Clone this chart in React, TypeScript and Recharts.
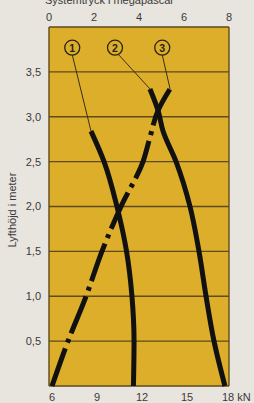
import { LineChart, Line, XAxis, YAxis, CartesianGrid, ReferenceDot, ReferenceLine } from "recharts";

// lyfthöjd (m) och lyftkraft (kN) för de tre kurvorna
const heights1 = [0, 0.5, 1.0, 1.5, 2.0, 2.5, 2.84];
const force1 = [11.63, 11.67, 11.53, 11.17, 10.53, 9.67, 8.8];

const heights2 = [0, 0.5, 1.0, 1.5, 2.0, 2.5, 2.84, 3.07, 3.31];
const force2 = [17.73, 17.0, 16.47, 16.0, 15.4, 14.47, 13.6, 13.27, 12.73];

const heights3 = [0, 0.5, 1.0, 1.5, 2.0, 2.5, 2.77, 3.07, 3.31];
const force3 = [6.2, 7.27, 8.47, 9.53, 10.8, 12.27, 12.73, 13.27, 14.07];

const kNTicks = [6, 9, 12, 15, 18];
const topTicks = [0, 2, 4, 6, 8];
const heightTicks = [0, 0.5, 1, 1.5, 2, 2.5, 3, 3.5, 4];

const labels = ["1", "2", "3"];
const labelForce = [7.55, 10.4, 13.55];
const labelHeight = 3.77;

const toRows = (h: number[], f: number[]) => h.map((v, i) => ({ h: v, f: f[i] }));

const GRID = "#5e4a1c";
const TEXT = "#3a3a3a";
const FONT = "Liberation Sans, Arial, sans-serif";

function BottomTick({ x, y, payload }: any) {
  if (payload.value === 18) {
    return (
      <text x={x - 7} y={y + 7} fill={TEXT} fontSize={11} fontFamily={FONT}>
        18 kN
      </text>
    );
  }
  return (
    <text x={x + 3} y={y + 7} fill={TEXT} fontSize={11} fontFamily={FONT} textAnchor="middle">
      {payload.value}
    </text>
  );
}

function TopTick({ x, payload }: any) {
  return (
    <text x={x} y={21} fill={TEXT} fontSize={11} fontFamily={FONT} textAnchor="middle">
      {payload.value}
    </text>
  );
}

function CircleLabel({ cx, cy, text }: any) {
  return (
    <g>
      <circle cx={cx} cy={cy} r={7.5} fill="none" stroke="#2a2414" strokeWidth={1.3} />
      <text x={cx} y={cy + 4} textAnchor="middle" fontSize={10.5} fontWeight="bold" fill="#2a2414" fontFamily={FONT}>
        {text}
      </text>
    </g>
  );
}

export default function App() {
  const tops = [
    { f: force1[force1.length - 1], h: heights1[heights1.length - 1] },
    { f: force2[force2.length - 1], h: heights2[heights2.length - 1] },
    { f: force3[force3.length - 1], h: heights3[heights3.length - 1] },
  ];
  return (
    <div style={{ position: "absolute", left: 0, top: 0, width: 254, height: 403, background: "#e8e4de" }}>
      <svg width={254} height={12} style={{ position: "absolute", left: 0, top: 0 }}>
        <text x={45} y={4} fontSize={11} fill={TEXT} fontFamily={FONT}>
          Systemtryck i megapascal
        </text>
      </svg>
      <svg width={30} height={403} style={{ position: "absolute", left: 0, top: 0 }}>
        <text
          transform="translate(16,210) rotate(-90)"
          textAnchor="middle"
          fontSize={11}
          fill={TEXT}
          fontFamily={FONT}
        >
          Lyfthöjd i meter
        </text>
      </svg>
      <LineChart
        width={254}
        height={403}
        layout="vertical"
        margin={{ top: 0, right: 25, bottom: 0, left: 0 }}
        style={{ position: "absolute", left: 0, top: 0 }}
      >
        <CartesianGrid stroke={GRID} strokeWidth={1.4} fill="#dcae2a" fillOpacity={1} />
        <XAxis
          xAxisId="kN"
          type="number"
          dataKey="f"
          domain={[6, 18]}
          ticks={kNTicks}
          orientation="bottom"
          height={17}
          axisLine={false}
          tickLine={false}
          tick={<BottomTick />}
          interval={0}
        />
        <XAxis
          xAxisId="top"
          type="number"
          domain={[0, 8]}
          allowDataOverflow
          ticks={topTicks}
          orientation="top"
          height={27}
          axisLine={false}
          tickLine={false}
          tick={<TopTick />}
          interval={0}
        />
        <YAxis
          type="number"
          dataKey="h"
          domain={[0, 4]}
          reversed
          ticks={heightTicks}
          width={49}
          axisLine={false}
          tickLine={false}
          interval={0}
          tickFormatter={(v: number) => (v === 0 || v === 4 ? "" : v.toFixed(1).replace(".", ","))}
          tick={{ fill: TEXT, fontSize: 11, fontFamily: FONT }}
        />
        {tops.map((t, i) => (
          <ReferenceLine
            key={"lead" + i}
            xAxisId="kN"
            segment={[
              { x: labelForce[i] + (i === 1 ? 0.25 : 0), y: labelHeight - 0.08 },
              { x: t.f, y: t.h },
            ]}
            stroke="#3a2e14"
            strokeWidth={1}
          />
        ))}
        <Line
          xAxisId="kN"
          data={toRows(heights1, force1)}
          dataKey="f"
          type="monotone"
          stroke="#111"
          strokeWidth={5}
          dot={false}
          isAnimationActive={false}
        />
        <Line
          xAxisId="kN"
          data={toRows(heights2, force2)}
          dataKey="f"
          type="monotone"
          stroke="#111"
          strokeWidth={5}
          dot={false}
          isAnimationActive={false}
        />
        <Line
          xAxisId="kN"
          data={toRows(heights3, force3)}
          dataKey="f"
          type="monotone"
          stroke="#111"
          strokeWidth={5}
          strokeDasharray="40 6 4 6"
          dot={false}
          isAnimationActive={false}
        />
        {labels.map((l, i) => (
          <ReferenceDot
            key={l}
            xAxisId="kN"
            x={labelForce[i]}
            y={labelHeight}
            r={7}
            shape={(p: any) => <CircleLabel cx={p.cx} cy={p.cy} text={l} />}
          />
        ))}
      </LineChart>
    </div>
  );
}
